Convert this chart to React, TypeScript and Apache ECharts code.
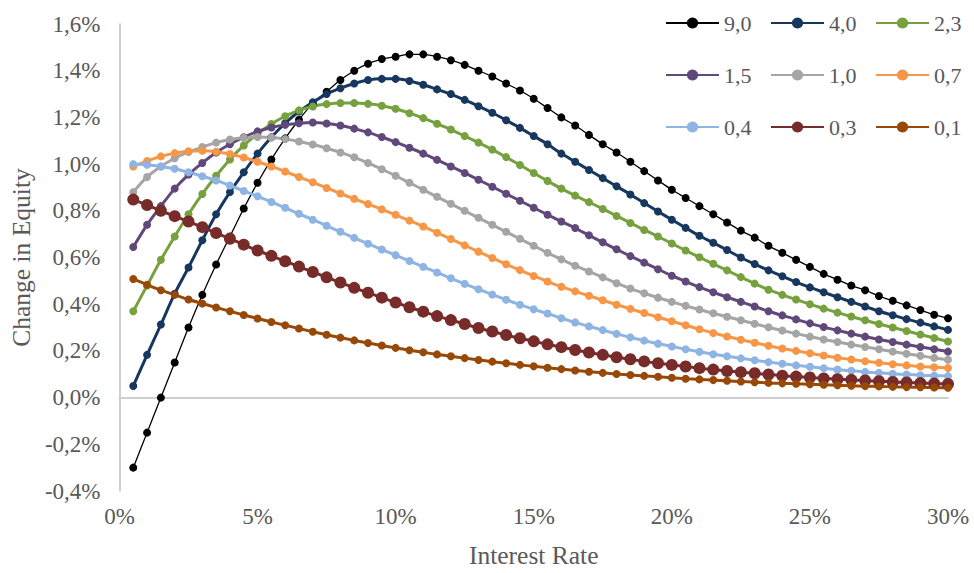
import React, { useEffect, useRef } from "react";
import * as echarts from "echarts";

const rates = [
  0.5, 1, 1.5, 2, 2.5, 3, 3.5, 4, 4.5, 5, 5.5, 6, 6.5, 7, 7.5, 8, 8.5, 9, 9.5, 10,
  10.5, 11, 11.5, 12, 12.5, 13, 13.5, 14, 14.5, 15, 15.5, 16, 16.5, 17, 17.5, 18, 18.5, 19, 19.5, 20,
  20.5, 21, 21.5, 22, 22.5, 23, 23.5, 24, 24.5, 25, 25.5, 26, 26.5, 27, 27.5, 28, 28.5, 29, 29.5, 30,
];

const s90 = [
  -0.30, -0.15, 0.0, 0.15, 0.30, 0.44, 0.57, 0.69, 0.81, 0.92, 1.02, 1.11, 1.19, 1.26, 1.31, 1.36, 1.40, 1.43, 1.45, 1.46,
  1.47, 1.47, 1.46, 1.445, 1.425, 1.40, 1.375, 1.345, 1.315, 1.28, 1.24, 1.20, 1.165, 1.125, 1.085, 1.05, 1.01, 0.97, 0.93, 0.89,
  0.855, 0.82, 0.785, 0.75, 0.715, 0.685, 0.65, 0.62, 0.59, 0.56, 0.53, 0.505, 0.48, 0.46, 0.435, 0.415, 0.395, 0.375, 0.355, 0.34,
];
const s40 = [
  0.05, 0.183, 0.313, 0.445, 0.557, 0.674, 0.785, 0.88, 0.965, 1.045, 1.115, 1.175, 1.225, 1.265, 1.30, 1.325, 1.345, 1.36, 1.365, 1.365,
  1.356, 1.34, 1.32, 1.30, 1.275, 1.248, 1.22, 1.188, 1.155, 1.12, 1.085, 1.045, 1.01, 0.975, 0.94, 0.905, 0.87, 0.833, 0.797, 0.762,
  0.727, 0.693, 0.663, 0.632, 0.60, 0.572, 0.545, 0.52, 0.495, 0.472, 0.451, 0.43, 0.41, 0.39, 0.37, 0.353, 0.336, 0.321, 0.305, 0.29,
];
const s23 = [
  0.37, 0.48, 0.59, 0.69, 0.785, 0.872, 0.95, 1.02, 1.08, 1.13, 1.172, 1.205, 1.23, 1.247, 1.257, 1.262, 1.262, 1.258, 1.25, 1.237,
  1.218, 1.197, 1.173, 1.148, 1.12, 1.092, 1.062, 1.03, 0.996, 0.962, 0.928, 0.895, 0.865, 0.837, 0.808, 0.778, 0.748, 0.718, 0.69, 0.66,
  0.63, 0.601, 0.573, 0.545, 0.516, 0.488, 0.462, 0.44, 0.42, 0.40, 0.381, 0.364, 0.347, 0.331, 0.315, 0.30, 0.285, 0.27, 0.255, 0.24,
];
const s15 = [
  0.645, 0.74, 0.82, 0.895, 0.955, 1.005, 1.05, 1.085, 1.115, 1.14, 1.157, 1.168, 1.175, 1.178, 1.174, 1.165, 1.152, 1.136, 1.116, 1.094,
  1.07, 1.045, 1.018, 0.99, 0.962, 0.933, 0.903, 0.873, 0.843, 0.813, 0.783, 0.754, 0.726, 0.695, 0.665, 0.635, 0.606, 0.578, 0.55, 0.522,
  0.497, 0.473, 0.451, 0.43, 0.41, 0.39, 0.37, 0.352, 0.335, 0.318, 0.302, 0.288, 0.274, 0.261, 0.249, 0.238, 0.227, 0.217, 0.207, 0.197,
];
const s10 = [
  0.88, 0.945, 0.99, 1.025, 1.052, 1.073, 1.092, 1.105, 1.113, 1.116, 1.114, 1.107, 1.097, 1.084, 1.068, 1.05, 1.029, 1.005, 0.978, 0.95,
  0.92, 0.89, 0.86, 0.83, 0.80, 0.77, 0.74, 0.71, 0.68, 0.65, 0.62, 0.592, 0.565, 0.54, 0.515, 0.49, 0.467, 0.447, 0.428, 0.41,
  0.393, 0.377, 0.361, 0.346, 0.331, 0.316, 0.301, 0.287, 0.274, 0.261, 0.249, 0.238, 0.227, 0.217, 0.207, 0.197, 0.188, 0.179, 0.17, 0.162,
];
const s07 = [
  0.99, 1.013, 1.033, 1.047, 1.055, 1.057, 1.053, 1.043, 1.028, 1.01, 0.99, 0.968, 0.945, 0.922, 0.898, 0.874, 0.851, 0.829, 0.806, 0.783,
  0.758, 0.733, 0.706, 0.679, 0.652, 0.625, 0.598, 0.571, 0.546, 0.521, 0.497, 0.475, 0.455, 0.436, 0.417, 0.398, 0.38, 0.362, 0.344, 0.327,
  0.31, 0.293, 0.277, 0.262, 0.248, 0.235, 0.222, 0.21, 0.2, 0.19, 0.18, 0.171, 0.163, 0.156, 0.149, 0.143, 0.138, 0.133, 0.13, 0.127,
];
const s04 = [
  1.0, 0.997, 0.99, 0.98, 0.965, 0.948, 0.93, 0.908, 0.885, 0.862, 0.838, 0.813, 0.787, 0.762, 0.736, 0.71, 0.684, 0.659, 0.634, 0.61,
  0.585, 0.56, 0.536, 0.511, 0.487, 0.464, 0.441, 0.419, 0.398, 0.378, 0.36, 0.34, 0.322, 0.305, 0.289, 0.273, 0.258, 0.244, 0.231, 0.219,
  0.207, 0.196, 0.186, 0.177, 0.168, 0.16, 0.152, 0.145, 0.138, 0.132, 0.126, 0.12, 0.115, 0.11, 0.106, 0.102, 0.099, 0.096, 0.094, 0.092,
];
const s03 = [
  0.848, 0.825, 0.8, 0.777, 0.754, 0.73, 0.705, 0.68, 0.655, 0.63, 0.607, 0.584, 0.561, 0.538, 0.515, 0.493, 0.47, 0.449, 0.428, 0.407,
  0.387, 0.368, 0.349, 0.332, 0.315, 0.298, 0.283, 0.268, 0.254, 0.241, 0.228, 0.216, 0.204, 0.193, 0.183, 0.173, 0.164, 0.155, 0.147, 0.14,
  0.133, 0.126, 0.12, 0.114, 0.109, 0.104, 0.099, 0.094, 0.09, 0.086, 0.082, 0.079, 0.076, 0.073, 0.07, 0.067, 0.065, 0.062, 0.06, 0.058,
];
const s01 = [
  0.508, 0.483, 0.46, 0.44, 0.42, 0.403, 0.386, 0.37, 0.354, 0.339, 0.324, 0.31, 0.296, 0.282, 0.269, 0.257, 0.245, 0.234, 0.223, 0.213,
  0.203, 0.194, 0.185, 0.177, 0.169, 0.161, 0.154, 0.147, 0.14, 0.134, 0.128, 0.122, 0.116, 0.111, 0.106, 0.101, 0.097, 0.093, 0.089, 0.085,
  0.081, 0.078, 0.075, 0.072, 0.069, 0.066, 0.063, 0.061, 0.059, 0.057, 0.055, 0.053, 0.051, 0.049, 0.048, 0.046, 0.045, 0.044, 0.043, 0.042,
];

const seriesNames = ["9,0", "4,0", "2,3", "1,5", "1,0", "0,7", "0,4", "0,3", "0,1"];
const seriesValues = [s90, s40, s23, s15, s10, s07, s04, s03, s01];
const seriesColors = ["#000000", "#17375E", "#77A03F", "#60497A", "#A5A5A5", "#F79646", "#8DB4E2", "#772C2A", "#984807"];
const lineWidths = [1.3, 3, 3, 3, 3, 3, 3, 3, 3];
const symbolSizes = [8, 8, 8, 8, 8, 8, 8, 12, 8];

const FONT = "'Liberation Serif', 'Times New Roman', serif";
const TEXT = "#595959";

export default function App() {
  const ref = useRef<HTMLDivElement>(null);
  useEffect(() => {
    if (!ref.current) return;
    const chart = echarts.init(ref.current, undefined, { renderer: "svg" });
    const series = seriesNames.map((name, i) => ({
      name,
      type: "line",
      xAxisIndex: 0,
      yAxisIndex: 0,
      data: rates.map((r, j) => [r, seriesValues[i][j]]),
      smooth: 0.3,
      symbol: "circle",
      symbolSize: symbolSizes[i],
      showSymbol: true,
      lineStyle: { color: seriesColors[i], width: lineWidths[i] },
      itemStyle: { color: seriesColors[i] },
    }));
    const legends = seriesNames.map((name, i) => ({
      data: [name],
      orient: "horizontal",
      left: 665 + (i % 3) * 105,
      top: 11 + Math.floor(i / 3) * 52,
      padding: 0,
      itemWidth: 53,
      itemHeight: 14,
      textStyle: { fontFamily: FONT, fontSize: 22, color: TEXT, lineHeight: 24 },
    }));
    chart.setOption({
      animation: false,
      backgroundColor: "#ffffff",
      textStyle: { fontFamily: FONT },
      legend: legends,
      grid: { left: 119, right: 26, top: 24, bottom: 75, containLabel: false },
      xAxis: [
        {
          type: "value",
          min: 0,
          max: 30,
          interval: 5,
          position: "bottom",
          name: "Interest Rate",
          nameLocation: "middle",
          nameGap: 51,
          nameTextStyle: { fontFamily: FONT, fontSize: 25.5, color: TEXT },
          axisLine: { show: false, onZero: false },
          axisTick: { show: false },
          splitLine: { show: false },
          axisLabel: {
            fontFamily: FONT,
            fontSize: 23,
            color: TEXT,
            margin: 14,
            formatter: (v: number) => `${v}%`,
          },
        },
        {
          type: "value",
          min: 0,
          max: 30,
          position: "top",
          axisLine: { show: true, onZero: true, lineStyle: { color: "#CFCFCF", width: 2 } },
          axisTick: { show: false },
          axisLabel: { show: false },
          splitLine: { show: false },
        },
      ],
      yAxis: {
        type: "value",
        min: -0.4,
        max: 1.6,
        interval: 0.2,
        name: "Change in Equity",
        nameLocation: "middle",
        nameGap: 82,
        nameTextStyle: { fontFamily: FONT, fontSize: 25.5, color: TEXT },
        axisLine: { show: true, lineStyle: { color: "#BFBFBF", width: 1.5 } },
        axisTick: { show: false },
        splitLine: { show: false },
        axisLabel: {
          fontFamily: FONT,
          fontSize: 23,
          color: TEXT,
          margin: 19,
          formatter: (v: number) => `${(Math.round(v * 10) / 10).toFixed(1).replace(".", ",")}%`,
        },
      },
      series,
    });
    return () => chart.dispose();
  }, []);
  return <div ref={ref} style={{ position: "fixed", left: 0, top: 0, width: 974, height: 573 }} />;
}
